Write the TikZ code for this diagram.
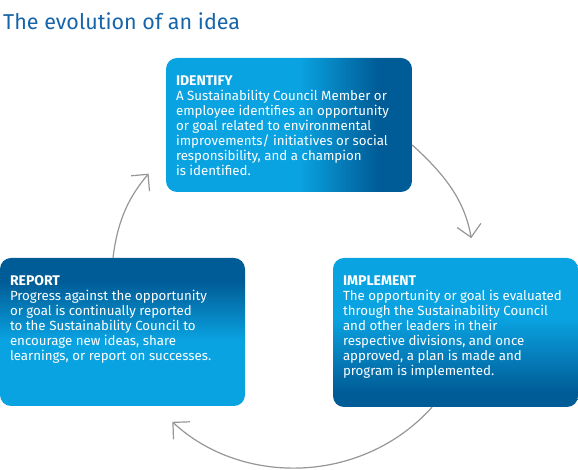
\documentclass[tikz,border=0pt]{standalone}
\usepackage{fontspec}
\setmainfont{Fira Sans}
\usepackage{xcolor}
\usetikzlibrary{arrows.meta, positioning}

\definecolor{lightblue}{RGB}{10,163,226}
\definecolor{darkblue}{RGB}{0,92,150}
\definecolor{titleblue}{RGB}{22,100,170}
\definecolor{cyclegray}{RGB}{150,150,150}

% shadings: the path covers 25bp..75bp
\pgfdeclarehorizontalshading{identifyshade}{100bp}{color(0bp)=(lightblue); color(52bp)=(lightblue); color(68bp)=(darkblue); color(100bp)=(darkblue)}
\pgfdeclareverticalshading{reportshade}{100bp}{color(0bp)=(lightblue); color(47bp)=(lightblue); color(67bp)=(darkblue); color(100bp)=(darkblue)}
\pgfdeclareverticalshading{implementshade}{100bp}{color(0bp)=(darkblue); color(30bp)=(darkblue); color(55bp)=(lightblue); color(100bp)=(lightblue)}

\newcommand{\stagehead}[1]{{\fontsize{14}{15}\selectfont\bfseries #1}}

\begin{document}
\begin{tikzpicture}[
  x=1pt, y=1pt,
  stage/.style={shade, rounded corners=11pt, minimum width=245pt, inner sep=0pt},
  txt/.style={text=white, align=left, inner sep=0pt, font=\fontsize{13.3}{15}\selectfont},
  cyc/.style={draw=cyclegray, line width=1.2pt,
              -{Straight Barb[length=12pt, width=24pt, sep=10pt]}}
]
\useasboundingbox (0,0) rectangle (578,470);

\node[anchor=base west, inner sep=0pt, text=titleblue,
      font=\fontsize{21.5}{26}\selectfont] (title) at (3,440) {The evolution of an idea};

% the three stages
\node[stage, shading=identifyshade, minimum width=246pt, minimum height=134pt] (identify) at (289,345) {};
\node[stage, shading=implementshade, minimum height=149pt] (implement) at (455.5,137.5) {};
\node[stage, shading=reportshade, minimum height=148pt] (report) at (122.5,138) {};

\node[txt, below right=18pt and 10pt of identify.north west] (identifytxt)
  {\stagehead{IDENTIFY}\\A Sustainability Council Member or\\employee identifies an opportunity\\or goal related to environmental\\improvements/ initiatives or social\\responsibility, and a champion\\is identified.};
\node[txt, below right=18pt and 10pt of implement.north west] (implementtxt)
  {\stagehead{IMPLEMENT}\\The opportunity or goal is evaluated\\through the Sustainability Council\\and other leaders in their\\respective divisions, and once\\approved, a plan is made and\\program is implemented.};
\node[txt, below right=18pt and 10pt of report.north west] (reporttxt)
  {\stagehead{REPORT}\\Progress against the opportunity\\or goal is continually reported\\to the Sustainability Council to\\encourage new ideas, share\\learnings, or report on successes.};

% cycle arrows
\coordinate (tip1) at (473,222);
\coordinate (tip2) at (165,55);
\coordinate (tip3) at (155,304);
\draw[cyc] ([yshift=-20pt]identify.east) to[out=-42, in=100] (tip1);
\draw[cyc] ([xshift=-23.5pt]implement.south) to[out=-132, in=-43] (tip2);
\draw[cyc] ([xshift=-9.5pt]report.north) to[out=83, in=230] (tip3);
\end{tikzpicture}
\end{document}
